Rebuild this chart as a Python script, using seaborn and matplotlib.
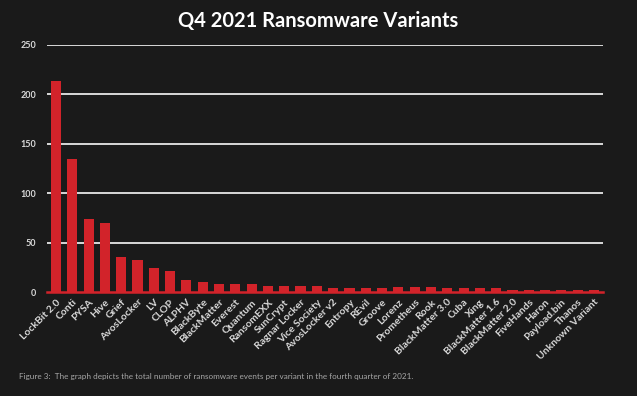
import matplotlib
matplotlib.use("Agg")
import matplotlib.pyplot as plt
import seaborn as sns
import pandas as pd

# values
variants = [
    "LockBit 2.0", "Conti", "PYSA", "Hive", "Grief", "AvosLocker", "LV", "CLOP",
    "ALPHV", "BlackByte", "BlackMatter", "Everest", "Quantum", "RansomEXX",
    "SunCrypt", "Ragnar Locker", "Vice Society", "AvosLocker v2", "Entropy",
    "REvil", "Groove", "Lorenz", "Prometheus", "Rook", "BlackMatter 3.0", "Cuba",
    "Xing", "BlackMatter 1.6", "BlackMatter 2.0", "FiveHands", "Haron",
    "Payload.bin", "Thanos", "Unknown Variant",
]
events = [
    214, 135, 74, 70, 35, 32, 24, 21,
    12, 10, 8, 8, 8, 6,
    6, 6, 6, 4, 4,
    4, 4, 5, 5, 5, 4, 4,
    4, 4, 2, 2, 2,
    2, 2, 2,
]
y_ticks = [0, 50, 100, 150, 200, 250]

title = "Q4 2021 Ransomware Variants"
caption = ("Figure 3:  The graph depicts the total number of ransomware events "
           "per variant in the fourth quarter of 2021.")

bg = "#1a1a1a"
bar_red = "#d2232a"

df = pd.DataFrame({"variant": variants, "events": events})

sns.set_style("dark")
plt.rcParams["font.family"] = ["Lato", "DejaVu Sans"]

fig = plt.figure(figsize=(6.37, 3.96), dpi=100, facecolor=bg)
ax = fig.add_axes([0.0738, 0.2626, 0.8728, 0.6238])
ax.set_facecolor(bg)

sns.barplot(data=df, x="variant", y="events", color=bar_red, saturation=1,
            width=0.62, ax=ax, zorder=3, edgecolor="none", linewidth=0)

ax.set_ylim(0, 250)
ax.set_xlim(-0.55, len(variants) - 0.45)
ax.set_yticks(y_ticks)
for t in y_ticks[1:]:
    ax.axhline(t, color="#e8e8e8", lw=1.3, zorder=1)
ax.grid(False)

for s in ["top", "right", "left"]:
    ax.spines[s].set_visible(False)
ax.spines["bottom"].set_color(bar_red)
ax.spines["bottom"].set_linewidth(1.8)
ax.spines["bottom"].set_zorder(4)

ax.tick_params(axis="y", length=0, pad=8, labelsize=6.5, labelcolor="#d9d9d9")
ax.tick_params(axis="x", length=0, pad=4, labelsize=7.5, labelcolor="#d9d9d9")
for lbl in ax.get_xticklabels():
    lbl.set_rotation(45)
    lbl.set_ha("right")
    lbl.set_rotation_mode("anchor")
    lbl.set_fontweight("bold")
for lbl in ax.get_yticklabels():
    lbl.set_fontweight("bold")

ax.set_xlabel("")
ax.set_ylabel("")

fig.text(0.5, 0.948, title, ha="center", va="center", color="white",
         fontsize=14.5, fontweight="bold")
fig.text(0.03, 0.05, caption, ha="left", va="center", color="#a6a6a6",
         fontsize=5.9)

fig.savefig("out.png", dpi=100, facecolor=bg)
